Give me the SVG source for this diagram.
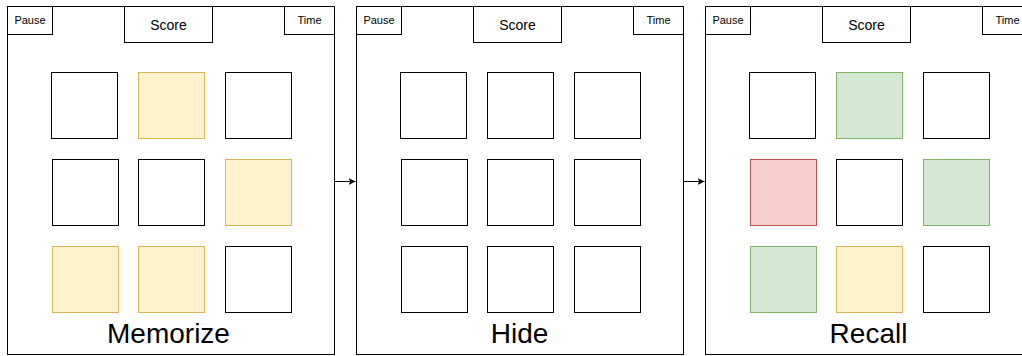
<svg xmlns="http://www.w3.org/2000/svg" width="1022" height="356" viewBox="0 0 1022 356">
<defs>
<style>
.panel{fill:#fff;stroke:#000;stroke-width:1}
.box{fill:#fff;stroke:#000;stroke-width:1}
.sq{fill:#fff;stroke:#000;stroke-width:1}
.y{fill:#fff2cc;stroke:#d6b656}
.g{fill:#d5e8d4;stroke:#82b366}
.r{fill:#f8cecc;stroke:#b85450}
.sm{font-family:"Liberation Sans",Arial,sans-serif;font-size:11px;fill:#000;text-anchor:middle}
.md{font-family:"Liberation Sans",Arial,sans-serif;font-size:14px;fill:#000;text-anchor:middle}
.lg{font-family:"Liberation Sans",Arial,sans-serif;font-size:28px;fill:#000;text-anchor:middle}
.conn{stroke:#000;stroke-width:1;fill:none}
</style>
<marker id="arr" viewBox="0 0 10 10" refX="10" refY="5" markerWidth="7" markerHeight="7" markerUnits="userSpaceOnUse" orient="auto">
<path d="M0,0 L10,5 L0,10 L2.5,5 Z" fill="#000"/>
</marker>
<g id="tpl">
<rect class="panel" x="7.5" y="6.5" width="327" height="348"/>
<rect class="box" x="7.5" y="6.5" width="45" height="28"/>
<text class="sm" x="30" y="24">Pause</text>
<rect class="box" x="124.5" y="6.5" width="88" height="36"/>
<text class="md" x="168.5" y="30">Score</text>
<rect class="box" x="284.5" y="6.5" width="50" height="28"/>
<text class="sm" x="309.5" y="24">Time</text>
</g>
</defs>

<g id="panel-memorize">
<use href="#tpl"/>
<rect class="sq" x="51.5" y="72.5" width="66" height="66"/>
<rect class="sq y" x="138.5" y="72.5" width="66" height="66"/>
<rect class="sq" x="225.5" y="72.5" width="66" height="66"/>
<rect class="sq" x="52.5" y="159.5" width="66" height="66"/>
<rect class="sq" x="138.5" y="159.5" width="66" height="66"/>
<rect class="sq y" x="225.5" y="159.5" width="66" height="66"/>
<rect class="sq y" x="52.5" y="246.5" width="66" height="66"/>
<rect class="sq y" x="138.5" y="246.5" width="66" height="66"/>
<rect class="sq" x="225.5" y="246.5" width="66" height="66"/>
<text class="lg" x="168.5" y="343">Memorize</text>
</g>

<g id="panel-hide">
<use href="#tpl" x="349"/>
<rect class="sq" x="400.5" y="72.5" width="66" height="66"/>
<rect class="sq" x="487.5" y="72.5" width="66" height="66"/>
<rect class="sq" x="574.5" y="72.5" width="66" height="66"/>
<rect class="sq" x="401.5" y="159.5" width="66" height="66"/>
<rect class="sq" x="487.5" y="159.5" width="66" height="66"/>
<rect class="sq" x="574.5" y="159.5" width="66" height="66"/>
<rect class="sq" x="401.5" y="246.5" width="66" height="66"/>
<rect class="sq" x="487.5" y="246.5" width="66" height="66"/>
<rect class="sq" x="574.5" y="246.5" width="66" height="66"/>
<text class="lg" x="519.5" y="343">Hide</text>
</g>

<g id="panel-recall">
<use href="#tpl" x="698"/>
<rect class="sq" x="749.5" y="72.5" width="66" height="66"/>
<rect class="sq g" x="836.5" y="72.5" width="66" height="66"/>
<rect class="sq" x="923.5" y="72.5" width="66" height="66"/>
<rect class="sq r" x="750.5" y="159.5" width="66" height="66"/>
<rect class="sq" x="836.5" y="159.5" width="66" height="66"/>
<rect class="sq g" x="923.5" y="159.5" width="66" height="66"/>
<rect class="sq g" x="750.5" y="246.5" width="66" height="66"/>
<rect class="sq y" x="836.5" y="246.5" width="66" height="66"/>
<rect class="sq" x="923.5" y="246.5" width="66" height="66"/>
<text class="lg" x="868.5" y="343">Recall</text>
</g>

<g id="connectors">
<line class="conn" x1="334.5" y1="181.5" x2="355.5" y2="181.5" marker-end="url(#arr)"/>
<line class="conn" x1="683.5" y1="181.5" x2="704.5" y2="181.5" marker-end="url(#arr)"/>
</g>
</svg>
